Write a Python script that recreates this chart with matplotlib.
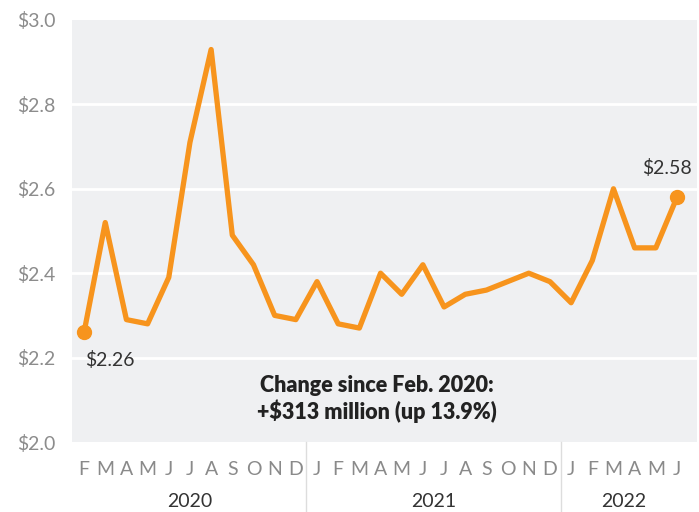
import matplotlib
matplotlib.use("Agg")
import matplotlib.pyplot as plt

values = [2.26, 2.52, 2.29, 2.28, 2.39, 2.71, 2.93, 2.49, 2.42, 2.30, 2.29,
          2.38, 2.28, 2.27, 2.40, 2.35, 2.42, 2.32, 2.35, 2.36, 2.38, 2.40, 2.38,
          2.33, 2.43, 2.60, 2.46, 2.46, 2.58]
month_labels = ["F", "M", "A", "M", "J", "J", "A", "S", "O", "N", "D",
                "J", "F", "M", "A", "M", "J", "J", "A", "S", "O", "N", "D",
                "J", "F", "M", "A", "M", "J"]
years = ["2020", "2021", "2022"]
year_start_idx = [0, 11, 23]
year_end_idx = [10, 22, 28]
y_ticks = [2.0, 2.2, 2.4, 2.6, 2.8, 3.0]
y_tick_labels = ["$2.0", "$2.2", "$2.4", "$2.6", "$2.8", "$3.0"]

plt.rcParams['font.family'] = ['Lato', 'DejaVu Sans']

fig = plt.figure(figsize=(6.99, 5.12), dpi=100)
ax = fig.add_axes([0.103, 0.1367, 0.894, 0.8243])
ax.set_facecolor("#eff0f2")
x = list(range(len(values)))
ax.set_xlim(-0.57, 28.94)
ax.set_ylim(2.0, 3.0)
for t in y_ticks[1:-1]:
    ax.axhline(t, color="white", lw=2, zorder=1)
color = "#f7941d"
ax.plot(x, values, color=color, lw=3.8, solid_joinstyle="round", zorder=3)
ax.plot([x[0], x[-1]], [values[0], values[-1]], "o", color=color, ms=10, zorder=4)
for s in ax.spines.values():
    s.set_visible(False)
ax.set_yticks(y_ticks)
ax.set_yticklabels(y_tick_labels, color="#8c8c8c", fontsize=14)
ax.tick_params(axis="y", length=0, pad=12)
ax.set_xticks([])

ax.text(x[0] + 0.05, values[0] - 0.065, "$%.2f" % values[0], fontsize=14,
        color="#333333", ha="left", va="center")
ax.text(x[-1] - 0.45, values[-1] + 0.07, "$%.2f" % values[-1], fontsize=14,
        color="#333333", ha="center", va="center")
ax.text(13.85, 2.045, "Change since Feb. 2020:\n+$313 million (up 13.9%)",
        fontsize=15.5, fontweight="heavy", color="#222222", ha="center",
        va="bottom", linespacing=1.2)

trans = ax.get_xaxis_transform()
for i, lab in enumerate(month_labels):
    ax.text(i, -0.065, lab, transform=trans, ha="center", va="center",
            fontsize=14, color="#8a8a8a")
for yr, s, e in zip(years, year_start_idx, year_end_idx):
    ax.text((s + e) / 2, -0.14, yr, transform=trans, ha="center", va="center",
            fontsize=14, color="#333333")
for b in [10.5, 22.5]:
    ax.plot([b, b], [0, -0.17], transform=trans, color="#dddddd", lw=1,
            clip_on=False)

fig.savefig("out.png", dpi=100)
